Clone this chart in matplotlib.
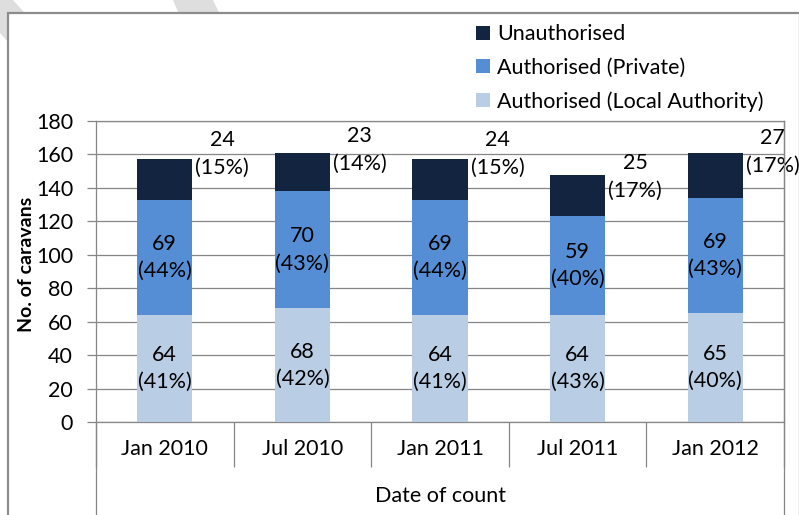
import matplotlib
matplotlib.use("Agg")
import matplotlib.pyplot as plt
from matplotlib.patches import Polygon, Rectangle
from matplotlib.lines import Line2D
import numpy as np

categories = ["Jan 2010", "Jul 2010", "Jan 2011", "Jul 2011", "Jan 2012"]
local_authority = [64, 68, 64, 64, 65]
local_authority_pct = [41, 42, 41, 43, 40]
private = [69, 70, 69, 59, 69]
private_pct = [44, 43, 44, 40, 43]
unauthorised = [24, 23, 24, 25, 27]
unauthorised_pct = [15, 14, 15, 17, 17]
unauth_label_dy = [3.3, 1.7, 3.3, -1.5, 0.5]
yticks = [0, 20, 40, 60, 80, 100, 120, 140, 160, 180]

C_LA = "#B9CDE5"
C_PRIV = "#558ED5"
C_UNAUTH = "#12243F"
GRID = "#868686"
FONT = "Lato"
FS = 15.5
LS = 1.45

plt.rcParams["font.family"] = [FONT, "DejaVu Sans"]

W, H = 799, 515
fig = plt.figure(figsize=(W / 100, H / 100), dpi=100)


def fx(px):
    return px / W


def fy(py):
    return 1 - py / H


# watermark fragments (behind chart area)
for pts in ([(0, 0), (13, 0), (60, 52), (40, 77), (0, 33)],
            [(173, 0), (213, 0), (232, 40), (190, 40)]):
    fig.patches.append(Polygon([(fx(x), fy(y)) for x, y in pts], closed=True,
                               transform=fig.transFigure, facecolor="#DEDEDE",
                               edgecolor="none", zorder=-3))

# chart area
fig.patches.append(Rectangle((fx(8), fy(530)), fx(800) - fx(8), fy(13) - fy(530),
                             transform=fig.transFigure, facecolor="white",
                             edgecolor="#8C8C8C", linewidth=1.6, zorder=-2))

ax = fig.add_axes([fx(96), fy(422), fx(784) - fx(96), fy(121) - fy(422)])
x = np.arange(len(categories))
bw = 0.4
la = np.array(local_authority)
pr = np.array(private)
un = np.array(unauthorised)

b1 = ax.bar(x, la, bw, color=C_LA, zorder=3, label="Authorised (Local Authority)")
b2 = ax.bar(x, pr, bw, bottom=la, color=C_PRIV, zorder=3, label="Authorised (Private)")
b3 = ax.bar(x, un, bw, bottom=la + pr, color=C_UNAUTH, zorder=3, label="Unauthorised")

for i in range(len(categories)):
    ax.text(x[i], la[i] / 2, f"{la[i]}\n({local_authority_pct[i]}%)", ha="center",
            va="center", fontsize=FS, linespacing=LS, multialignment="center", zorder=4)
    ax.text(x[i], la[i] + pr[i] / 2, f"{pr[i]}\n({private_pct[i]}%)", ha="center",
            va="center", fontsize=FS, linespacing=LS, multialignment="center", zorder=4)
    top = la[i] + pr[i] + un[i]
    ax.text(x[i] + bw / 2 + 0.022, top + unauth_label_dy[i],
            f"{un[i]}\n({unauthorised_pct[i]}%)", ha="left", va="center", fontsize=FS,
            linespacing=LS, multialignment="center", zorder=4)

ax.set_xlim(-0.5, len(categories) - 0.5)
ax.set_ylim(0, 180)
ax.set_yticks(yticks)
ax.set_yticklabels([str(t) for t in yticks], fontsize=FS)
ax.yaxis.grid(True, color=GRID, linewidth=0.9, zorder=0)
ax.set_axisbelow(True)
for s in ax.spines.values():
    s.set_color(GRID)
    s.set_linewidth(0.9)
ax.tick_params(axis="y", direction="out", length=6.5, width=0.9, color=GRID, pad=10)
ax.set_xticks(x)
ax.set_xticklabels(categories, fontsize=FS)
ax.tick_params(axis="x", length=0, pad=12)
ax.set_xticks(np.arange(len(categories) + 1) - 0.5, minor=True)
ax.tick_params(axis="x", which="minor", direction="out", length=32.5, width=0.9, color=GRID)

# extended axis lines
fig.lines.append(Line2D([fx(96), fx(96)], [fy(422), fy(520)], transform=fig.transFigure,
                        color=GRID, linewidth=0.9))
fig.lines.append(Line2D([fx(784), fx(784)], [fy(121), fy(520)], transform=fig.transFigure,
                        color=GRID, linewidth=0.9))

fig.text(fx(27), fy(264), "No. of caravans", rotation=90, ha="center", va="center",
         fontsize=14, fontweight="bold")
fig.text(fx(440), fy(496), "Date of count", ha="center", va="center", fontsize=FS)

fig.legend(handles=[b3, b2, b1], loc="upper left", bbox_to_anchor=(fx(459), fy(7)),
           frameon=False, fontsize=FS, handlelength=0.62, handleheight=0.62,
           handletextpad=0.35, labelspacing=0.62, borderpad=0.3)

fig.savefig("out.png", dpi=100)
